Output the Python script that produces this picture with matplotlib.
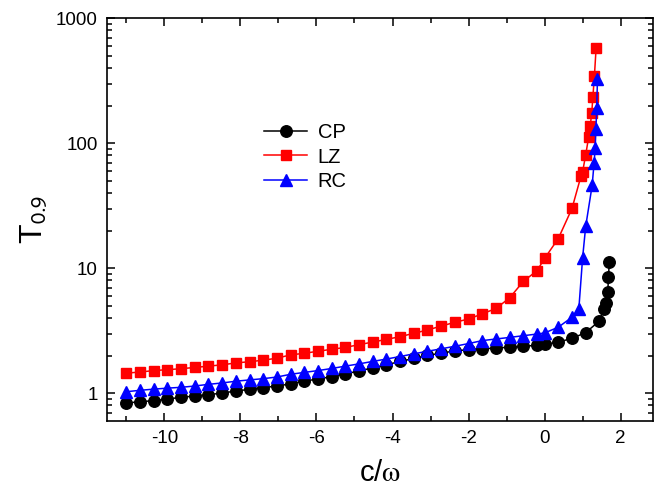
import matplotlib
matplotlib.use("Agg")
import matplotlib.pyplot as plt
from matplotlib.ticker import FixedLocator, LogLocator, NullFormatter, FixedFormatter

plt.rcParams['font.family'] = ['Liberation Sans', 'DejaVu Sans']
plt.rcParams['axes.unicode_minus'] = False
plt.rcParams['mathtext.fontset'] = 'stix'

x_cp = [-11.0, -10.64, -10.28, -9.92, -9.56, -9.2, -8.84, -8.48, -8.12, -7.76, -7.4,
        -7.04, -6.68, -6.32, -5.96, -5.6, -5.24, -4.88, -4.52, -4.16, -3.8, -3.44,
        -3.08, -2.72, -2.36, -2.0, -1.64, -1.28, -0.92, -0.56, -0.2,
        0.0, 0.36, 0.72, 1.08, 1.44, 1.57, 1.61, 1.66, 1.68, 1.70]
y_cp = [0.836, 0.857, 0.873, 0.90, 0.929, 0.951, 0.975, 1.005, 1.043, 1.076, 1.11,
        1.144, 1.19, 1.254, 1.30, 1.36, 1.43, 1.51, 1.60, 1.69, 1.80, 1.90,
        2.01, 2.10, 2.18, 2.24, 2.27, 2.30, 2.34, 2.37, 2.43,
        2.46, 2.57, 2.75, 3.06, 3.79, 4.74, 5.23, 6.41, 8.47, 11.3]

x_lz = [-11.0, -10.64, -10.28, -9.92, -9.56, -9.2, -8.84, -8.48, -8.12, -7.76, -7.4,
        -7.04, -6.68, -6.32, -5.96, -5.6, -5.24, -4.88, -4.52, -4.16, -3.8, -3.44,
        -3.08, -2.72, -2.36, -2.0, -1.64, -1.28, -0.92, -0.56, -0.2,
        0.0, 0.36, 0.72, 0.96, 1.0, 1.08, 1.16, 1.20, 1.24, 1.27, 1.31, 1.355]
y_lz = [1.45, 1.48, 1.52, 1.545, 1.574, 1.61, 1.65, 1.69, 1.75, 1.79, 1.84,
        1.91, 2.03, 2.09, 2.17, 2.25, 2.33, 2.45, 2.57, 2.70, 2.84, 3.02,
        3.21, 3.45, 3.70, 3.93, 4.32, 4.77, 5.8, 7.86, 9.57,
        12.0, 17.3, 30.1, 55.1, 59.3, 80.6, 113, 138, 176, 236, 347, 582]

x_rc = [-11.0, -10.64, -10.28, -9.92, -9.56, -9.2, -8.84, -8.48, -8.12, -7.76, -7.4,
        -7.04, -6.68, -6.32, -5.96, -5.6, -5.24, -4.88, -4.52, -4.16, -3.8, -3.44,
        -3.08, -2.72, -2.36, -2.0, -1.64, -1.28, -0.92, -0.56, -0.2,
        0.0, 0.36, 0.72, 0.9, 1.0, 1.08, 1.25, 1.30, 1.33, 1.35, 1.37, 1.39]
y_rc = [1.03, 1.057, 1.08, 1.10, 1.117, 1.144, 1.18, 1.21, 1.25, 1.28, 1.31,
        1.35, 1.42, 1.47, 1.52, 1.58, 1.65, 1.72, 1.80, 1.88, 1.97, 2.07,
        2.17, 2.27, 2.38, 2.50, 2.64, 2.72, 2.80, 2.89, 2.98,
        3.04, 3.38, 4.06, 4.74, 12.2, 21.6, 46, 69, 92, 131, 190, 325]

labels = ["CP", "LZ", "RC"]
x_ticks = [-10, -8, -6, -4, -2, 0, 2]
x_ticklabels = ["-10", "-8", "-6", "-4", "-2", "0", "2"]
y_ticks = [1, 10, 100, 1000]
y_ticklabels = ["1", "10", "100", "1000"]

fig = plt.figure(figsize=(6.56, 4.94), dpi=100)
ax = fig.add_axes([0.1636, 0.1484, 0.8318, 0.8146])

ax.plot(x_cp, y_cp, color='black', marker='o', markersize=8.3, lw=1.1, label=labels[0])
ax.plot(x_lz, y_lz, color='#ff0000', marker='s', markersize=7.7, lw=1.1, label=labels[1])
ax.plot(x_rc, y_rc, color='#0000ff', marker='^', markersize=8.7, lw=1.1, label=labels[2])

ax.set_yscale('log')
ax.set_xlim(-11.5, 2.85)
ax.set_ylim(0.604, 1000)

ax.xaxis.set_major_locator(FixedLocator(x_ticks))
ax.xaxis.set_major_formatter(FixedFormatter(x_ticklabels))
ax.xaxis.set_minor_locator(FixedLocator([-11, -9, -7, -5, -3, -1, 1]))
ax.yaxis.set_major_locator(FixedLocator(y_ticks))
ax.yaxis.set_major_formatter(FixedFormatter(y_ticklabels))
ax.yaxis.set_minor_locator(LogLocator(base=10, subs=range(2, 10)))
ax.yaxis.set_minor_formatter(NullFormatter())

ax.tick_params(which='both', direction='in', top=True, right=True, width=1.1,
               labelsize=13.5, pad=7)
ax.tick_params(which='major', length=6)
ax.tick_params(which='minor', length=3.5)
for s in ax.spines.values():
    s.set_linewidth(1.2)

ax.set_xlabel(r'c/$\mathrm{\omega}$', fontsize=21, labelpad=8)
ax.set_ylabel(r'T$_{\mathsf{0.9}}$', fontsize=23, labelpad=4)

ax.legend(loc='upper left', bbox_to_anchor=(0.288, 0.74), frameon=False,
          fontsize=14.5, handlelength=2.1, handletextpad=0.55, labelspacing=0.28,
          borderpad=0, borderaxespad=0)

fig.savefig('out.png', dpi=100)
